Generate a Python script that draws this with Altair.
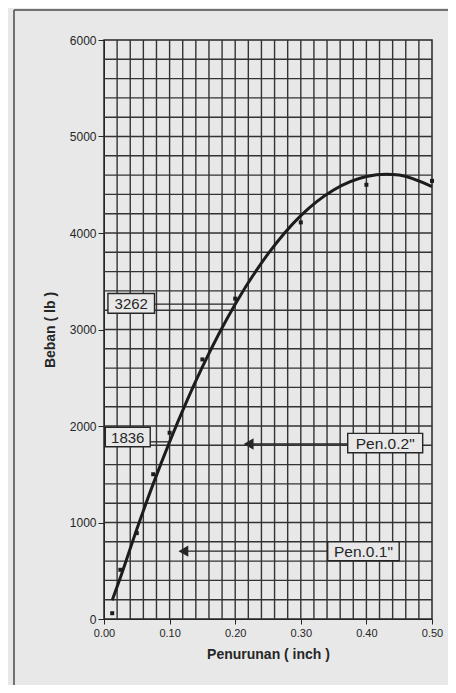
import altair as alt
import pandas as pd

# ---- data ----
pen_points = [0.0125, 0.025, 0.05, 0.075, 0.1, 0.15, 0.2, 0.3, 0.4, 0.5]
load_points = [60, 510, 890, 1500, 1930, 2690, 3320, 4110, 4500, 4540]

curve_x = [0.0125, 0.025, 0.05, 0.075, 0.1, 0.125, 0.15, 0.175, 0.2, 0.25,
           0.3, 0.35, 0.4, 0.43, 0.45, 0.5]
curve_y = [195, 430, 930, 1400, 1836, 2240, 2612, 2953, 3262, 3783,
           4180, 4446, 4585, 4610, 4600, 4480]

x_ticks = [0.0, 0.1, 0.2, 0.3, 0.4, 0.5]
y_ticks = [0, 1000, 2000, 3000, 4000, 5000, 6000]
x_grid = [round(0.02 * i, 2) for i in range(1, 25)]
y_grid = [200 * i for i in range(1, 30)]

value_labels = ["3262", "1836"]
value_level = [3262, 1836]
value_curve_x = [0.2, 0.1]
value_box_x0 = [0.006, 0.002]
value_box_x1 = [0.077, 0.0705]
value_box_y0 = [3168, 1785]
value_box_y1 = [3373, 1987]

pen_labels = ['Pen.0.2"', 'Pen.0.1"']
pen_level = [1813, 703]
pen_tip_x = [0.2205, 0.121]
pen_box_x0 = [0.3715, 0.341]
pen_box_x1 = [0.4858, 0.450]
pen_box_y0 = [1723, 604]
pen_box_y1 = [1924, 801]

BG = "#e8e8e8"
INK = "#262626"
GRID = "#333333"

xs = alt.Scale(domain=[0, 0.5], nice=False, zero=False)
ys = alt.Scale(domain=[0, 6000], nice=False)

pts = pd.DataFrame({"x": pen_points, "y": load_points})
crv = pd.DataFrame({"x": curve_x, "y": curve_y})
xg = pd.DataFrame({"x": x_grid})
yg = pd.DataFrame({"y": y_grid})

vals = pd.DataFrame({
    "label": value_labels, "y": value_level, "xc": value_curve_x,
    "x0": value_box_x0, "x1": value_box_x1, "y0": value_box_y0, "y1": value_box_y1,
})
vals["tx"] = (vals.x0 + vals.x1) / 2
vals["ty"] = (vals.y0 + vals.y1) / 2

pens = pd.DataFrame({
    "label": pen_labels, "y": pen_level, "tip": pen_tip_x,
    "x0": pen_box_x0, "x1": pen_box_x1, "y0": pen_box_y0, "y1": pen_box_y1,
})
pens["tx"] = (pens.x0 + pens.x1) / 2
pens["ty"] = (pens.y0 + pens.y1) / 2

x_axis = alt.Axis(values=x_ticks, format=".2f", grid=False, tickSize=5, labelPadding=3,
                  labelFlush=False, labelOverlap=False,
                  labelFontSize=11, labelColor=INK, tickColor=INK, domainColor=INK,
                  title="Penurunan ( inch )", titleFontSize=14, titleFontWeight="bold",
                  titleColor=INK, titlePadding=9, labelFont="Liberation Sans",
                  titleFont="Liberation Sans")
y_axis = alt.Axis(values=y_ticks, format="d", grid=False, tickSize=6, labelPadding=2,
                  labelFlush=False, labelOverlap=False,
                  labelFontSize=12, labelColor=INK, tickColor=INK, domainColor=INK,
                  title="Beban ( lb )", titleFontSize=14, titleFontWeight="bold",
                  titleColor=INK, titlePadding=12, labelFont="Liberation Sans",
                  titleFont="Liberation Sans")


def X(f):
    return alt.X(f, type="quantitative", scale=xs, axis=x_axis)


def Y(f):
    return alt.Y(f, type="quantitative", scale=ys, axis=y_axis)


base_pts = alt.Chart(pts).mark_point(filled=True, color="#1c1c1c", size=16, shape="square", opacity=1).encode(
    x=X("x"), y=Y("y")
)

vgrid = alt.Chart(xg).mark_rule(color=GRID, strokeWidth=1.4).encode(
    x=X("x"), y=alt.value(0), y2=alt.value(579),
)
hgrid = alt.Chart(yg).mark_rule(color=GRID, strokeWidth=1.4).encode(
    y=Y("y"), x=alt.value(0), x2=alt.value(328),
)

curve = alt.Chart(crv).mark_line(color="#1c1c1c", strokeWidth=3, interpolate="monotone").encode(
    x=X("x"), y=Y("y")
)

val_lines = alt.Chart(vals).mark_rule(color=INK, strokeWidth=1.3).encode(
    x=X("x1"), x2="xc:Q", y=Y("y")
)
val_boxes = alt.Chart(vals).mark_rect(fill=BG, stroke=INK, strokeWidth=1.4).encode(
    x=X("x0"), x2="x1:Q", y=Y("y0"), y2="y1:Q",
)
val_text = alt.Chart(vals).mark_text(fontSize=15, color=INK, font="Liberation Sans", dy=1).encode(
    x=X("tx"), y=Y("ty"), text="label:N"
)

pen_lines = alt.Chart(pens).mark_rule(color=INK, strokeWidth=1.4).encode(
    x=X("tip"), x2="x0:Q", y=Y("y")
)
pen_heads = alt.Chart(pens).mark_point(shape="triangle-left", filled=True, color=INK, size=130, opacity=1).encode(
    x=X("tip"), y=Y("y")
)
pen_boxes = alt.Chart(pens).mark_rect(fill=BG, stroke=INK, strokeWidth=1.4).encode(
    x=X("x0"), x2="x1:Q", y=Y("y0"), y2="y1:Q",
)
pen_text = alt.Chart(pens).mark_text(fontSize=15.5, color=INK, font="Liberation Sans", dy=1).encode(
    x=X("tx"), y=Y("ty"), text="label:N"
)

# outer frame of the scanned page (decoration)
frame_top = alt.Chart(pd.DataFrame({"k": [0]})).mark_rule(color="#4a4a4a", strokeWidth=1.5).encode(
    x=alt.value(-90), x2=alt.value(344), y=alt.value(-30)
)
frame_left = alt.Chart(pd.DataFrame({"k": [0]})).mark_rule(color="#4a4a4a", strokeWidth=1.5).encode(
    x=alt.value(-90), y=alt.value(-30), y2=alt.value(645)
)

chart = alt.layer(
    vgrid, hgrid, curve, base_pts, val_lines, val_boxes, val_text,
    pen_lines, pen_heads, pen_boxes, pen_text, frame_top, frame_left,
).properties(
    width=328, height=579,
    autosize=alt.AutoSizeParams(type="none"),
    padding={"left": 96, "top": 32, "right": 16, "bottom": 66},
    background=BG,
).configure(
    font="Liberation Sans"
).configure_view(
    stroke=INK, strokeWidth=1.5, fill=BG
)

chart.save("out.html", embed_options={"renderer": "svg", "actions": False})
